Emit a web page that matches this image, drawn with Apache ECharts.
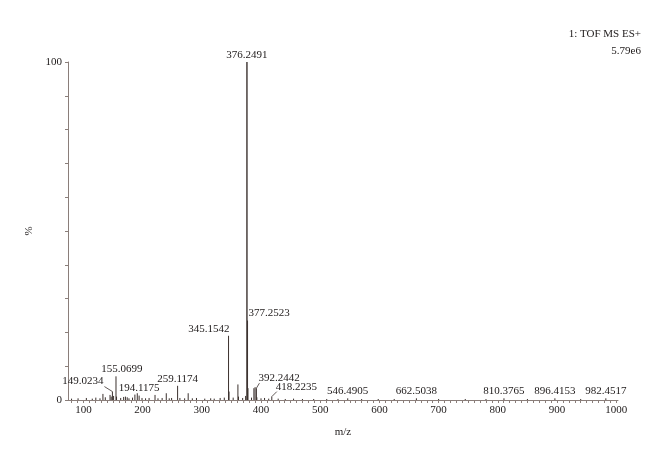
<!DOCTYPE html>
<html>
<head>
<meta charset="utf-8">
<script src="https://cdn.jsdelivr.net/npm/echarts@6/dist/echarts.min.js"></script>
<style>
html,body{margin:0;padding:0;background:#fff;}
#chart{width:660px;height:461px;}
</style>
</head>
<body>
<div id="chart"></div>
<script>
// ---- data ----
const peakMz = [80, 91, 105, 115, 121, 128, 133, 137, 145, 147, 149.0234, 151, 155.0699, 156, 163, 168, 171, 174, 177, 183, 187, 191, 194.1175, 199, 205, 211, 221, 226, 233, 240, 245, 249, 259.1174, 263, 271, 277, 284, 291, 305, 315, 321, 331, 338, 345.1542, 346, 353, 361, 362, 369, 374, 376.2491, 377.2523, 378, 384, 388, 390, 392.2442, 393, 400, 406, 413, 418.2235, 429, 441, 455, 470, 489, 511, 530, 546.4905, 570, 598, 625, 662.5038, 700, 745, 780, 810.3765, 850, 896.4153, 940, 982.4517];
const peakInt = [0.4, 0.5, 0.6, 0.4, 0.7, 0.5, 1.8, 0.8, 1.5, 1.0, 2.5, 1.2, 7.0, 1.0, 0.6, 0.9, 1.0, 0.8, 0.5, 0.7, 1.6, 2.0, 1.3, 0.6, 0.5, 0.6, 1.5, 0.5, 0.6, 2.0, 0.5, 0.6, 4.2, 0.6, 0.5, 2.0, 0.5, 0.6, 0.4, 0.5, 0.4, 0.6, 0.7, 19.0, 2.5, 0.7, 4.6, 1.0, 0.6, 1.2, 100, 23.5, 3.5, 0.7, 3.5, 3.8, 3.5, 0.8, 0.5, 0.6, 0.4, 1.0, 0.4, 0.3, 0.4, 0.3, 0.3, 0.3, 0.3, 0.5, 0.3, 0.3, 0.3, 0.5, 0.3, 0.3, 0.3, 0.5, 0.3, 0.5, 0.3, 0.5];
const labelMz = [149.0234, 155.0699, 194.1175, 259.1174, 345.1542, 376.2491, 377.2523, 392.2442, 418.2235, 546.4905, 662.5038, 810.3765, 896.4153, 982.4517];
const labelInt = [2.5, 7.0, 1.3, 4.2, 19.0, 100, 23.5, 3.5, 1.0, 0.5, 0.5, 0.5, 0.5, 0.5];
const xTickLabels = [100, 200, 300, 400, 500, 600, 700, 800, 900, 1000];
const yTickLabels = [0, 100];
const headerLines = ['1: TOF MS ES+', '5.79e6'];

// ---- layout of peak labels (pixels relative to peak top) ----
const labelLayout = [
  {align: 'right', dx: -9, dy: -10, leader: true},   // 149
  {align: 'center', dx: 6, dy: -7, leader: false},   // 155
  {align: 'center', dx: 0, dy: -7, leader: false},   // 194
  {align: 'center', dx: 0, dy: -7, leader: false},   // 259
  {align: 'right', dx: 1, dy: -7, leader: false},    // 345
  {align: 'center', dx: 0, dy: -7, leader: false},   // 376
  {align: 'left', dx: 1, dy: -7, leader: false},     // 377
  {align: 'left', dx: 2, dy: -10, leader: true},     // 392
  {align: 'left', dx: 4, dy: -10, leader: true},     // 418
  {align: 'center', dx: 0, dy: -7, leader: false},
  {align: 'center', dx: 0, dy: -7, leader: false},
  {align: 'center', dx: 0, dy: -7, leader: false},
  {align: 'center', dx: 0, dy: -7, leader: false},
  {align: 'center', dx: 0, dy: -7, leader: false}
];

const FONT = '"Liberation Serif", "DejaVu Serif", serif';
const TEXT = '#1e1a1a';
const AXIS = '#8a7e7a';
const STICK = '#3b312e';

const xTicks = [];
for (let v = 80; v <= 1000; v += 10) xTicks.push(v);
const yTicks = [];
for (let v = 0; v <= 100; v += 10) yTicks.push(v);

const chart = echarts.init(document.getElementById('chart'), null, {renderer: 'canvas'});
chart.setOption({
  animation: false,
  backgroundColor: '#fff',
  grid: {left: 68, right: 42, top: 62, bottom: 61},
  graphic: headerLines.map((t, i) => ({
    type: 'text', right: 19, top: 29 + i * 17,
    style: {text: t, font: '11px ' + FONT, fill: TEXT, textAlign: 'right'}
  })),
  xAxis: {
    type: 'value', min: 74, max: 1003,
    name: 'm/z', nameLocation: 'middle', nameGap: 27,
    nameTextStyle: {fontFamily: FONT, fontSize: 11, color: TEXT},
    axisLine: {lineStyle: {color: AXIS, width: 1}},
    axisTick: {customValues: xTicks, length: 3, lineStyle: {color: AXIS}},
    axisLabel: {customValues: xTickLabels, fontFamily: FONT, fontSize: 11, color: TEXT, margin: 5,
      formatter: function (v) { return String(v); }},
    splitLine: {show: false}
  },
  yAxis: {
    type: 'value', min: 0, max: 100,
    name: '%', nameLocation: 'middle', nameGap: 31, nameRotate: 90,
    nameTextStyle: {fontFamily: FONT, fontSize: 11, color: TEXT},
    axisLine: {show: true, lineStyle: {color: AXIS, width: 1}},
    axisTick: {show: true, customValues: yTicks, length: 3, lineStyle: {color: AXIS}},
    axisLabel: {customValues: yTickLabels, fontFamily: FONT, fontSize: 11, color: TEXT, margin: 6,
      formatter: function (v) { return String(v); }},
    splitLine: {show: false}
  },
  series: [
    {
      type: 'custom',
      name: 'spectrum',
      data: peakMz.map((m, i) => [m, peakInt[i]]),
      encode: {x: 0, y: 1},
      clip: true,
      renderItem: function (params, api) {
        const x = api.value(0), y = api.value(1);
        const p0 = api.coord([x, 0]);
        const p1 = api.coord([x, y]);
        return {
          type: 'line',
          shape: {x1: p0[0], y1: p0[1], x2: p1[0], y2: p1[1]},
          style: {stroke: STICK, lineWidth: y > 50 ? 1.4 : 1}
        };
      }
    },
    {
      type: 'custom',
      name: 'labels',
      data: labelMz.map((m, i) => [m, labelInt[i], i]),
      encode: {x: 0, y: 1},
      renderItem: function (params, api) {
        const x = api.value(0), y = api.value(1), idx = api.value(2);
        const top = api.coord([x, y]);
        const L = labelLayout[idx];
        const tx = top[0] + L.dx, ty = top[1] + L.dy;
        const children = [{
          type: 'text',
          style: {
            text: labelMz[idx].toFixed(4),
            x: tx, y: ty,
            textAlign: L.align, textVerticalAlign: 'middle',
            font: '11px ' + FONT, fill: TEXT
          }
        }];
        if (L.leader) {
          children.push({
            type: 'line',
            shape: {x1: top[0], y1: top[1], x2: tx + 1, y2: ty + 5},
            style: {stroke: STICK, lineWidth: 0.8}
          });
        }
        return {type: 'group', children: children};
      }
    }
  ]
});
</script>
</body>
</html>
